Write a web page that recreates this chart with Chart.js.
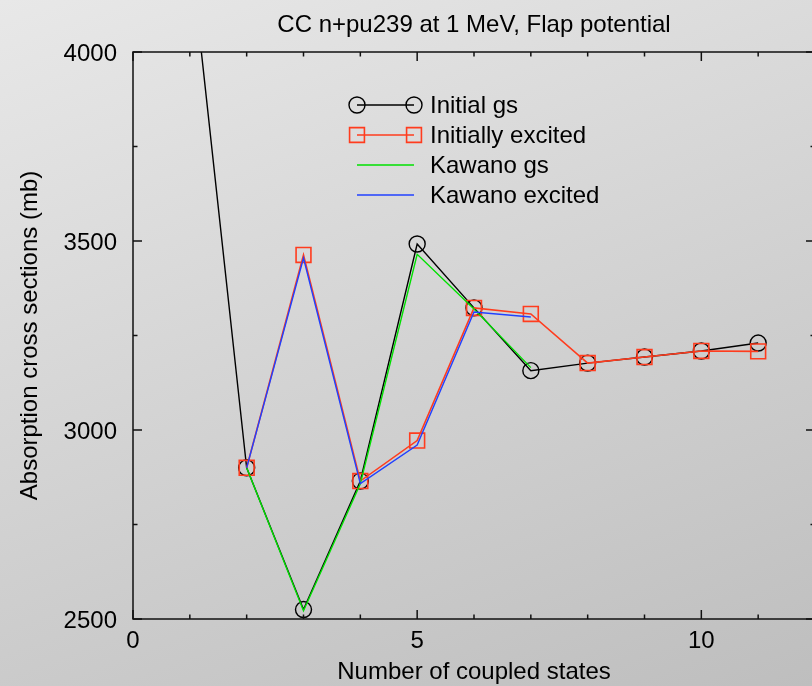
<!DOCTYPE html>
<html>
<head>
<meta charset="utf-8">
<script src="https://cdn.jsdelivr.net/npm/chart.js@4.4.1/dist/chart.umd.min.js"></script>
<style>
  html, body { margin: 0; padding: 0; width: 812px; height: 686px; overflow: hidden; }
  body { background: linear-gradient(160deg, #e8e8e8, #bebebe); }
  #wrap { position: relative; width: 818px; height: 686px; }
  canvas { display: block; }
</style>
</head>
<body>
<div id="wrap"><canvas id="chart" width="818" height="686"></canvas></div>
<script>
// Absorption cross sections (mb) versus number of coupled states
const gsStates = [1, 2, 3, 4, 5, 6, 7, 8, 9, 10, 11];
const initialGs = [4280, 2900, 2525, 2865, 3492, 3323, 3157, 3177, 3193, 3209, 3230];

const excitedStates = [2, 3, 4, 5, 6, 7, 8, 9, 10, 11];
const initiallyExcited = [2900, 3463, 2865, 2972, 3323, 3307, 3177, 3193, 3209, 3208];

const kawanoStates = [2, 3, 4, 5, 6, 7];
const kawanoGs = [2900, 2522, 2858, 3465, 3320, 3165];
const kawanoExcited = [2900, 3455, 2858, 2960, 3312, 3299];

const xTickLabels = [0, 5, 10];
const yTickLabels = [2500, 3000, 3500, 4000];
const xMinorStep = 1;
const yMinorStep = 250;

const titleText = 'CC n+pu239 at 1 MeV, Flap potential';
const xTitle = 'Number of coupled states';
const yTitle = 'Absorption cross sections (mb)';
const seriesNames = ['Initial gs', 'Initially excited', 'Kawano gs', 'Kawano excited'];

const FONT = '24px "Liberation Sans", Arial, Helvetica, sans-serif';
const BLACK = '#000000';
const RED = '#ff3c1e';
const GREEN = '#00e000';
const BLUE = '#2040ff';

const toPoints = (xs, ys) => xs.map((x, i) => ({ x: x, y: ys[i] }));

// Boxed frame with inward ticks on all four sides, plus labels and titles
const framePlugin = {
  id: 'frame',
  afterDatasetsDraw(chart) {
    const { ctx, chartArea: a, scales: { x, y } } = chart;
    ctx.save();
    ctx.strokeStyle = '#111';
    ctx.lineWidth = 1.5;
    ctx.strokeRect(a.left, a.top, a.right - a.left, a.bottom - a.top);

    ctx.beginPath();
    for (let v = x.min; v <= x.max + 1e-9; v += xMinorStep) {
      const px = x.getPixelForValue(v);
      const len = (v % 5 === 0) ? 9 : 4.5;
      ctx.moveTo(px, a.bottom); ctx.lineTo(px, a.bottom - len);
      ctx.moveTo(px, a.top); ctx.lineTo(px, a.top + len);
    }
    for (let v = y.min; v <= y.max + 1e-9; v += yMinorStep) {
      const py = y.getPixelForValue(v);
      const len = (v % 500 === 0) ? 9 : 4.5;
      ctx.moveTo(a.left, py); ctx.lineTo(a.left + len, py);
      ctx.moveTo(a.right, py); ctx.lineTo(a.right - len, py);
    }
    ctx.stroke();
    ctx.restore();
  },
  afterDraw(chart) {
    const { ctx, chartArea: a, scales: { x, y } } = chart;
    ctx.save();
    ctx.fillStyle = '#000';
    ctx.font = FONT;

    // tick labels
    ctx.textAlign = 'center';
    ctx.textBaseline = 'alphabetic';
    xTickLabels.forEach(v => ctx.fillText(String(v), x.getPixelForValue(v), a.bottom + 29));
    ctx.textAlign = 'right';
    yTickLabels.forEach(v => ctx.fillText(String(v), a.left - 16, y.getPixelForValue(v) + 9));

    // titles
    const cx = (a.left + a.right) / 2;
    ctx.textAlign = 'center';
    ctx.fillText(titleText, cx, 32);
    ctx.fillText(xTitle, cx, 679);
    ctx.save();
    ctx.translate(37, (a.top + a.bottom) / 2);
    ctx.rotate(-Math.PI / 2);
    ctx.fillText(yTitle, 0, 0);
    ctx.restore();

    // legend
    const lx0 = 357, lx1 = 414, tx = 430;
    const rows = [105, 135, 165, 195];
    chart.data.datasets.forEach((ds, i) => {
      const ry = rows[i];
      ctx.strokeStyle = ds.borderColor;
      ctx.lineWidth = ds.borderWidth;
      ctx.beginPath();
      ctx.moveTo(lx0, ry); ctx.lineTo(lx1, ry);
      ctx.stroke();
      if (ds.pointRadius > 0) {
        [lx0, lx1].forEach(px => {
          ctx.beginPath();
          if (ds.pointStyle === 'rect') {
            const s = ds.pointRadius * Math.SQRT1_2;
            ctx.rect(px - s, ry - s, 2 * s, 2 * s);
          } else {
            ctx.arc(px, ry, ds.pointRadius, 0, Math.PI * 2);
          }
          ctx.lineWidth = ds.pointBorderWidth;
          ctx.stroke();
        });
      }
      ctx.fillStyle = '#000';
      ctx.textAlign = 'left';
      ctx.textBaseline = 'middle';
      ctx.fillText(ds.label, tx, ry + 1);
    });
    ctx.restore();
  }
};

new Chart(document.getElementById('chart'), {
  type: 'line',
  data: {
    datasets: [
      {
        label: seriesNames[0],
        data: toPoints(gsStates, initialGs),
        borderColor: BLACK, borderWidth: 1.4,
        pointStyle: 'circle', pointRadius: 8, pointBorderWidth: 1.4,
        pointBorderColor: BLACK, pointBackgroundColor: 'rgba(0,0,0,0)',
        order: 4
      },
      {
        label: seriesNames[1],
        data: toPoints(excitedStates, initiallyExcited),
        borderColor: RED, borderWidth: 1.6,
        pointStyle: 'rect', pointRadius: 10.5, pointBorderWidth: 1.6,
        pointBorderColor: RED, pointBackgroundColor: 'rgba(0,0,0,0)',
        order: 3
      },
      {
        label: seriesNames[2],
        data: toPoints(kawanoStates, kawanoGs),
        borderColor: GREEN, borderWidth: 1.4,
        pointRadius: 0,
        order: 2
      },
      {
        label: seriesNames[3],
        data: toPoints(kawanoStates, kawanoExcited),
        borderColor: BLUE, borderWidth: 1.4,
        pointRadius: 0,
        order: 1
      }
    ]
  },
  options: {
    responsive: false,
    animation: false,
    devicePixelRatio: 1,
    layout: { autoPadding: false, padding: { left: 133, top: 52, right: 3, bottom: 67 } },
    scales: {
      x: { type: 'linear', min: 0, max: 12, display: false },
      y: { type: 'linear', min: 2500, max: 4000, display: false }
    },
    elements: { line: { tension: 0, fill: false } },
    plugins: { legend: { display: false }, tooltip: { enabled: false }, title: { display: false } }
  },
  plugins: [framePlugin]
});
</script>
</body>
</html>
